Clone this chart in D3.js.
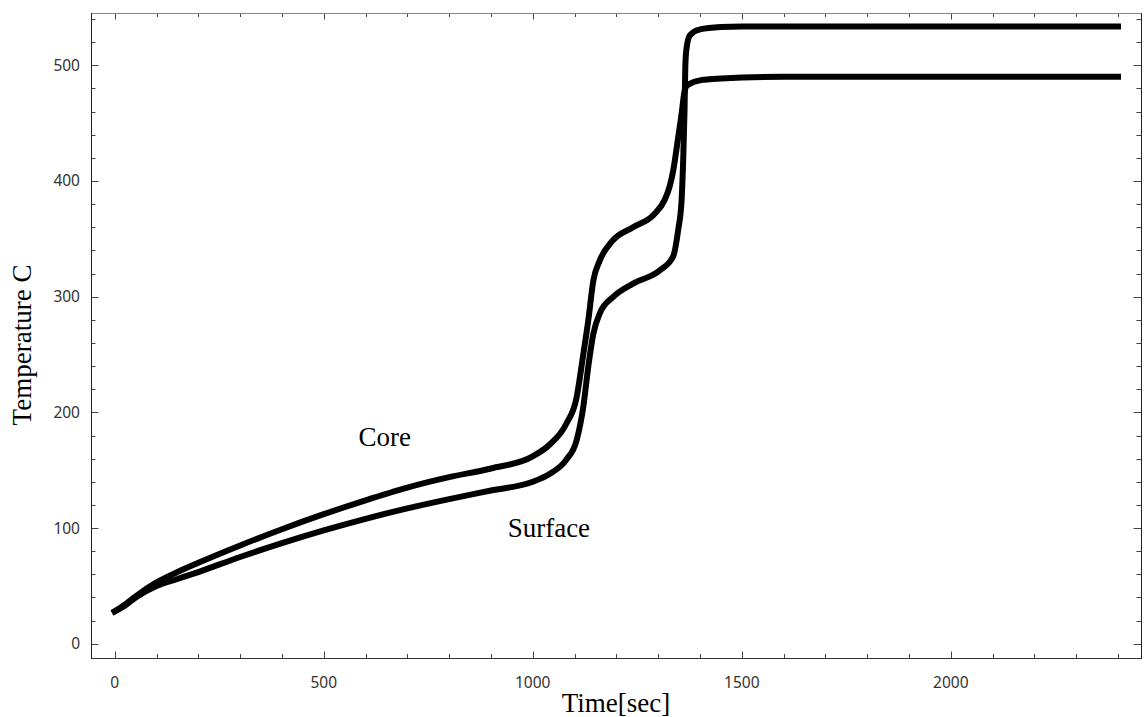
<!DOCTYPE html>
<html>
<head>
<meta charset="utf-8">
<script src="https://cdn.jsdelivr.net/npm/d3@7"></script>
<style>
  body { margin: 0; background: #fff; }
  svg { display: block; }
  .ticklabel { font-family: "Noto Sans", sans-serif; font-size: 15.5px; fill: #333; }
  .title { font-family: "Liberation Serif", "Times New Roman", serif; font-size: 27px; fill: #000; }
</style>
</head>
<body>
<svg id="chart" width="1144" height="717"></svg>
<script>
// core temperature readings, time in sec and temperature in C
var coreTime = [0, 25, 50, 100, 150, 200, 300, 400, 500, 600, 700, 800, 900, 1000, 1040, 1080, 1105, 1120, 1133, 1145, 1160, 1190, 1240, 1290, 1316, 1328, 1336, 1348, 1356, 1362, 1366, 1376, 1400, 1450, 1600, 2400]
var coreTemp = [28, 34, 41, 53, 62, 70, 85, 99, 112, 124, 135, 144, 151.5, 162, 172, 190, 213, 248, 280, 314, 331, 348, 360, 371, 384, 396, 409, 438, 458, 475, 481, 484, 487, 488.5, 490, 490]

// surface temperature readings
var surfTime = [0, 25, 50, 100, 150, 200, 300, 400, 500, 600, 700, 800, 900, 1000, 1041, 1080, 1105, 1121, 1133, 1145, 1161, 1193, 1241, 1305, 1336, 1348, 1356, 1360, 1363, 1365, 1368, 1376, 1400, 1450, 1500, 2400]
var surfTemp = [28, 33, 40, 50, 56, 62, 75, 87, 98, 108, 117, 125, 132.5, 140, 147, 159, 176, 205, 240, 268, 286, 300, 311.5, 323, 335, 358, 383, 420, 460, 500, 515, 526, 531, 533, 533.5, 533.5]

var xMajor = [0, 500, 1000, 1500, 2000]
var yMajor = [0, 100, 200, 300, 400, 500]
var labels = [
  { text: 'Core', t: 583, v: 171 },
  { text: 'Surface', t: 940, v: 92 }
]

var svg = d3.select('#chart')
var frameL = 91, frameR = 1141, frameT = 13, frameB = 658

var x = d3.scaleLinear().domain([-56.7, 2455]).range([frameL, frameR])
var y = d3.scaleLinear().domain([-12.3, 545.2]).range([frameB, frameT])

function pairs (ts, vs) {
  return ts.map(function (t, i) { return [t, vs[i]] })
}

svg.append('clipPath').attr('id', 'clip')
  .append('rect').attr('x', frameL).attr('y', frameT).attr('width', frameR - frameL).attr('height', frameB - frameT)

var line = d3.line()
  .x(function (d) { return x(d[0]) })
  .y(function (d) { return y(d[1]) })
  .curve(d3.curveMonotoneX)

var plot = svg.append('g').attr('clip-path', 'url(#clip)')
;[pairs(coreTime, coreTemp), pairs(surfTime, surfTemp)].forEach(function (series) {
  plot.append('path')
    .attr('d', line(series))
    .attr('fill', 'none')
    .attr('stroke', '#000')
    .attr('stroke-width', 6)
    .attr('stroke-linejoin', 'round')
    .attr('stroke-linecap', 'square')
})

// ticks, Mathematica style: inside the frame on all four sides
var xMinor = d3.range(0, 2401, 100).filter(function (t) { return xMajor.indexOf(t) < 0 })
var yMinor = d3.range(0, 541, 20).filter(function (v) { return yMajor.indexOf(v) < 0 })
var ticks = svg.append('g').attr('stroke', '#444').attr('stroke-width', 1)

function xTicks (vals, len) {
  vals.forEach(function (t) {
    var px = Math.round(x(t)) + 0.5
    ticks.append('line').attr('x1', px).attr('x2', px).attr('y1', frameB).attr('y2', frameB - len)
    ticks.append('line').attr('x1', px).attr('x2', px).attr('y1', frameT).attr('y2', frameT + len)
  })
}
function yTicks (vals, len) {
  vals.forEach(function (v) {
    var py = Math.round(y(v)) + 0.5
    ticks.append('line').attr('x1', frameL).attr('x2', frameL + len).attr('y1', py).attr('y2', py)
    ticks.append('line').attr('x1', frameR).attr('x2', frameR - len).attr('y1', py).attr('y2', py)
  })
}
xTicks(xMajor, 6.5)
xTicks(xMinor, 4)
yTicks(yMajor, 7.5)
yTicks(yMinor, 4.5)

// frame
svg.append('line').attr('x1', frameL).attr('x2', frameR).attr('y1', frameT + 0.5).attr('y2', frameT + 0.5).attr('stroke', '#888')
svg.append('line').attr('x1', frameL).attr('x2', frameR).attr('y1', frameB + 0.5).attr('y2', frameB + 0.5).attr('stroke', '#333')
svg.append('line').attr('x1', frameL + 0.5).attr('x2', frameL + 0.5).attr('y1', frameT).attr('y2', frameB + 1).attr('stroke', '#222')
svg.append('line').attr('x1', frameR + 0.5).attr('x2', frameR + 0.5).attr('y1', frameT).attr('y2', frameB + 1).attr('stroke', '#222')

// tick labels
svg.append('g').selectAll('text').data(xMajor).enter().append('text')
  .attr('class', 'ticklabel')
  .attr('x', function (d) { return x(d) })
  .attr('y', 688)
  .attr('text-anchor', 'middle')
  .text(function (d) { return d })

svg.append('g').selectAll('text').data(yMajor).enter().append('text')
  .attr('class', 'ticklabel')
  .attr('x', 80)
  .attr('y', function (d) { return y(d) + 5.5 })
  .attr('text-anchor', 'end')
  .text(function (d) { return d })

// axis titles and curve labels
svg.append('text').attr('class', 'title')
  .attr('x', 616).attr('y', 712)
  .attr('text-anchor', 'middle')
  .text('Time[sec]')

svg.append('text').attr('class', 'title')
  .attr('transform', 'translate(31,345) rotate(-90)')
  .attr('text-anchor', 'middle')
  .text('Temperature C')

svg.append('g').selectAll('text').data(labels).enter().append('text')
  .attr('class', 'title')
  .attr('x', function (d) { return x(d.t) })
  .attr('y', function (d) { return y(d.v) })
  .text(function (d) { return d.text })
</script>
</body>
</html>
